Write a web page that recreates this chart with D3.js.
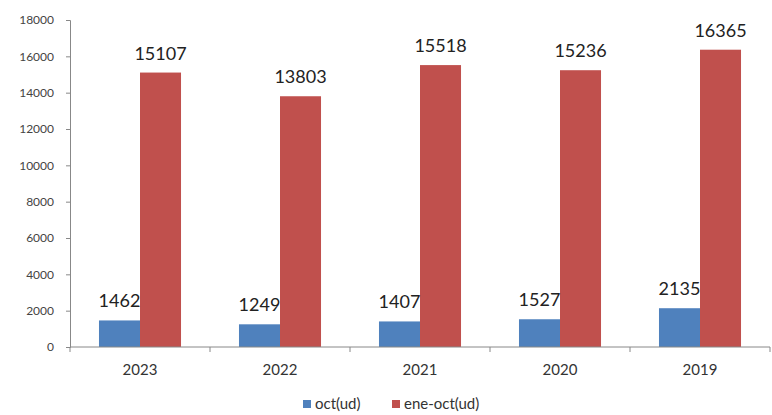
<!doctype html>
<html lang="en">
<head>
  <meta charset="utf-8">
  <title>oct / ene-oct</title>
  <script src="https://cdn.jsdelivr.net/npm/d3@7"></script>
  <style>
    body{margin:0;background:#fff;font-family:Lato,"Open Sans",sans-serif}
    .tick text{fill:#444}
  </style>
</head>
<body>
  <div id="container"></div>
<script>
var years = ["2023", "2022", "2021", "2020", "2019"];
var seriesNames = ["oct(ud)", "ene-oct(ud)"];
var octValues = [1462, 1249, 1407, 1527, 2135];
var eneOctValues = [15107, 13803, 15518, 15236, 16365];
var yTicks = [0, 2000, 4000, 6000, 8000, 10000, 12000, 14000, 16000, 18000];
var colors = ["#4F81BD", "#C0504D"];

var W = 772, H = 415,
    mLeft = 70, mRight = 770, mTop = 20, mBottom = 347;

var rows = years.map(function (y, i) {
  return {year: y, vals: [octValues[i], eneOctValues[i]]};
});

var svg = d3.select("#container").append("svg").attr("width", W).attr("height", H);

var x = d3.scaleBand().domain(years).range([mLeft, mRight]).paddingInner(0.414).paddingOuter(0.207);
var x1 = d3.scaleBand().domain([0, 1]).range([0, x.bandwidth()]);
var y = d3.scaleLinear().domain([0, 18000]).range([mBottom, mTop]);

// y axis
var gy = svg.append("g").attr("transform", "translate(" + mLeft + ",0)")
  .call(d3.axisLeft(y).tickValues(yTicks).tickSize(4).tickPadding(12).tickFormat(d3.format("d")));
gy.selectAll("text").style("font-size", "12px").style("font-family", "Lato,sans-serif");
gy.select(".domain").attr("stroke", "#888");
gy.selectAll(".tick line").attr("stroke", "#888");

// groups of bars
var groups = svg.append("g").selectAll("g").data(rows).enter().append("g")
  .attr("transform", function (d) { return "translate(" + x(d.year) + ",0)"; });

groups.selectAll("rect").data(function (d) { return d.vals; }).enter().append("rect")
  .attr("x", function (d, i) { return x1(i); })
  .attr("width", x1.bandwidth())
  .attr("y", function (d) { return y(d); })
  .attr("height", function (d) { return mBottom - y(d); })
  .attr("fill", function (d, i) { return colors[i]; });

groups.selectAll("text").data(function (d) { return d.vals; }).enter().append("text")
  .attr("x", function (d, i) { return x1(i) + x1.bandwidth() / 2; })
  .attr("y", function (d) { return y(d) - 13; })
  .attr("text-anchor", "middle")
  .style("font-size", "18px")
  .style("fill", "#222")
  .text(function (d) { return d; });

// x axis with ticks on category borders
var gx = svg.append("g").attr("transform", "translate(0," + mBottom + ")");
gx.append("line").attr("x1", mLeft).attr("x2", mRight).attr("stroke", "#888");
var borders = [mLeft].concat(years.map(function (yr) { return x(yr) - x.step() * x.paddingInner() / 2 + x.step(); }));
gx.selectAll("line.tk").data(borders).enter().append("line").attr("class", "tk")
  .attr("x1", function (d) { return d; }).attr("x2", function (d) { return d; })
  .attr("y1", 0).attr("y2", 5).attr("stroke", "#888");
gx.selectAll("text").data(years).enter().append("text")
  .attr("x", function (d) { return x(d) + x.bandwidth() / 2; })
  .attr("y", 28)
  .attr("text-anchor", "middle")
  .style("font-size", "15px")
  .style("fill", "#333")
  .text(function (d) { return d; });

// legend
var legend = svg.append("g").attr("transform", "translate(303,409)");
var lx = [0, 89];
var items = legend.selectAll("g").data(seriesNames).enter().append("g")
  .attr("transform", function (d, i) { return "translate(" + lx[i] + ",0)"; });
items.append("rect").attr("x", 0).attr("y", -9).attr("width", 8).attr("height", 8)
  .attr("fill", function (d, i) { return colors[i]; });
items.append("text").attr("x", 12).attr("y", 0)
  .style("font-size", "15px").style("fill", "#333")
  .text(function (d) { return d; });
</script>
</body>
</html>
